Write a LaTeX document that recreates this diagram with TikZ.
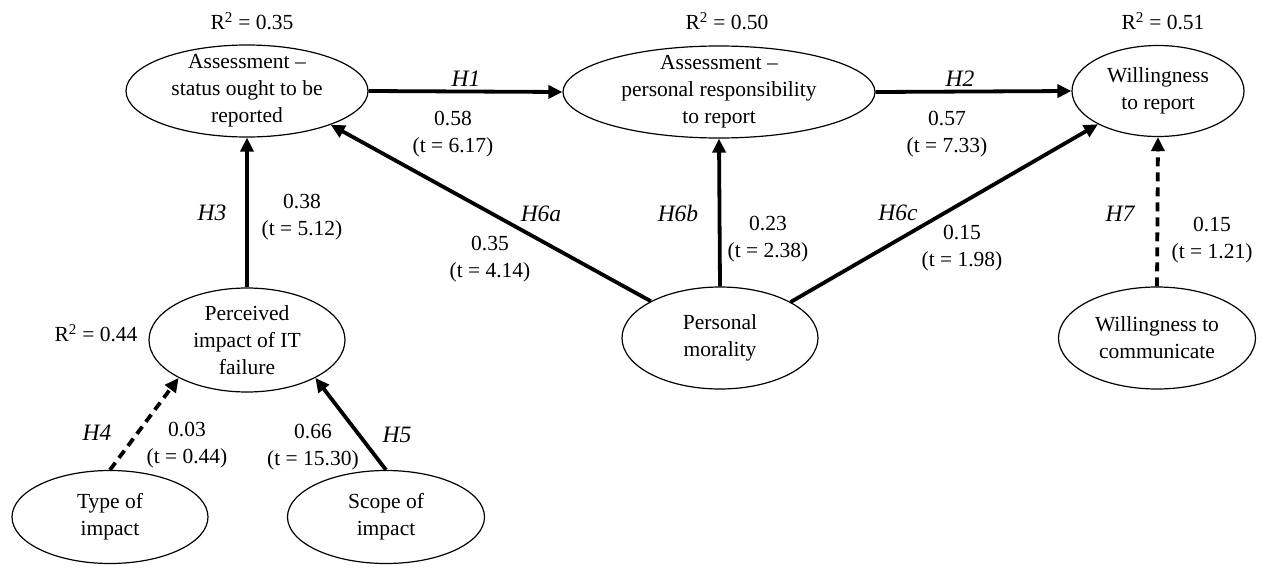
\documentclass[tikz,border=0pt]{standalone}
\usepackage{fontspec}
\setmainfont{Liberation Serif}
\usetikzlibrary{shapes.geometric,arrows.meta}
\begin{document}
\begin{tikzpicture}[x=1pt,y=-1pt,
  font=\fontsize{21.5}{27}\selectfont,
  lv/.style={ellipse, draw, line width=1.2pt, inner sep=0pt},
  lvtext/.style={align=center, inner sep=0pt},
  conn/.style={line width=3.8pt, -{Triangle[length=14pt,width=13pt]}},
  nsconn/.style={conn, dash pattern=on 9pt off 6pt},
  hyp/.style={font=\fontsize{23.5}{28}\selectfont\itshape, inner sep=0pt},
  coef/.style={align=center, inner sep=0pt},
  rsq/.style={inner sep=0pt}]
\useasboundingbox (0,0) rectangle (1262,573);

% latent variables
\node[lv, minimum width=242pt, minimum height=92pt] (a1) at (247,91) {};
\node[lvtext] (a1t) at (a1) {Assessment –\\status ought to be\\reported};
\node[lv, minimum width=312pt, minimum height=92pt] (a2) at (719,92) {};
\node[lvtext] (a2t) at (a2) {Assessment –\\personal responsibility\\to report};
\node[lv, minimum width=172pt, minimum height=91pt] (w) at (1158,91) {};
\node[lvtext] (wt) at (w) {Willingness\\to report};
\node[lv, minimum width=196pt, minimum height=104pt] (p) at (247,340) {};
\node[lvtext] (pt) at (p) {Perceived\\impact of IT\\failure};
\node[lv, minimum width=196pt, minimum height=102pt] (pm) at (720,338) {};
\node[lvtext] (pmt) at (pm) {Personal\\morality};
\node[lv, minimum width=197pt, minimum height=102pt] (wc) at (1157,338) {};
\node[lvtext] (wct) at (wc) {Willingness to\\communicate};
\node[lv, minimum width=196pt, minimum height=93pt] (ty) at (110,517) {};
\node[lvtext] (tyt) at (ty) {Type of\\impact};
\node[lv, minimum width=197pt, minimum height=93pt] (sc) at (386,517) {};
\node[lvtext] (sct) at (sc) {Scope of\\impact};

% R squared
\node[rsq] (r1) at (252,21) {R\textsuperscript{2} = 0.35};
\node[rsq] (r2) at (727,21) {R\textsuperscript{2} = 0.50};
\node[rsq] (r3) at (1163,21) {R\textsuperscript{2} = 0.51};
\node[rsq] (r4) at (96,333) {R\textsuperscript{2} = 0.44};

% paths
\draw[conn] (a1.east) -- (a2.west);
\draw[conn] (a2.east) -- (w.west);
\draw[conn] (p.north) -- (a1.south);
\draw[conn] (pm.152) -- (a1.-22);
\draw[conn] (pm.north) -- (a2.south);
\draw[conn] (pm.27.5) -- (w.209);
\draw[nsconn] (wc.north) -- (w.south);
\draw[nsconn] (ty.north) -- (p.209);
\draw[conn] (sc.north) -- (p.-29);

% hypothesis labels
\node[hyp] (h1) at (466,79) {H1};
\node[hyp] (h2) at (960,79) {H2};
\node[hyp] (h3) at (212,213) {H3};
\node[hyp] (h4) at (97,433) {H4};
\node[hyp] (h5) at (397,435) {H5};
\node[hyp] (h6a) at (541,214) {H6a};
\node[hyp] (h6b) at (678,213) {H6b};
\node[hyp] (h6c) at (898,213) {H6c};
\node[hyp] (h7) at (1120,214) {H7};

% coefficients
\node[coef] (c1) at (453,134) {0.58\\(t = 6.17)};
\node[coef] (c2) at (947,134) {0.57\\(t = 7.33)};
\node[coef] (c3) at (302,217) {0.38\\(t = 5.12)};
\node[coef] (c6a) at (490,259) {0.35\\(t = 4.14)};
\node[coef] (c6b) at (768,239) {0.23\\(t = 2.38)};
\node[coef] (c6c) at (962,248) {0.15\\(t = 1.98)};
\node[coef] (c7) at (1212,240) {0.15\\(t = 1.21)};
\node[coef] (c4) at (187,445) {0.03\\(t = 0.44)};
\node[coef] (c5) at (313,447) {0.66\\(t = 15.30)};
\end{tikzpicture}
\end{document}
